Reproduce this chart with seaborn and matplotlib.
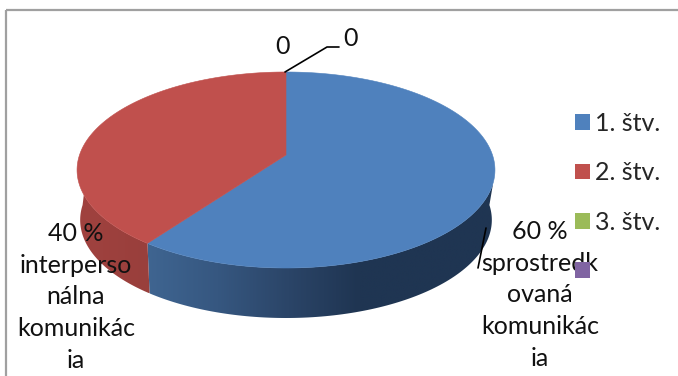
import numpy as np
import matplotlib
matplotlib.use("Agg")
import matplotlib.pyplot as plt
from matplotlib.patches import Patch, Polygon, Rectangle
from matplotlib.colors import LinearSegmentedColormap
import seaborn as sns

quarters = ["1. štv.", "2. štv.", "3. štv.", ""]
shares = [60, 40, 0, 0]
slice_labels = ["60 %\nsprostredk\novaná\nkomunikác\nia", "40 %\ninterperso\nnálna\nkomunikác\nia", "0", "0"]
palette = sns.color_palette(["#4F81BD", "#C0504D", "#9BBB59", "#8064A2"])
blue_wall = ["#3F6591", "#365780", "#2B4568", "#1F3552", "#1F3552"]
red_wall = ["#A0423F", "#993F3C"]

sns.set_theme(style="white")
plt.rcParams["font.family"] = ["Lato", "DejaVu Sans"]
TEXT_SIZE = 18
INK = "#111111"

fig, ax = plt.subplots(figsize=(6.78, 3.76), dpi=100)
ax.set_position([0, 0, 1, 1])
ax.axis("off")

# Page frame around the chart area
ax.add_patch(Rectangle((6, 10), 700, 500, fill=False, ec="#A0A0A0", lw=1.6, zorder=0))

CX, APEX_Y, HALF_W, TILT, RISE = 286, 155, 206.5, 0.153, 72
DEPTH, BOTTOM_SCALE = 50, 0.985


def project(theta):
    """Map clockwise angle from 12 o'clock onto the tilted disc."""
    u, v = np.sin(theta), np.cos(theta)
    w = 1 + TILT * v
    return CX + HALF_W * u / w, (APEX_Y - RISE * v) / w


def bottom_rim(theta):
    x, y = project(theta)
    return CX + (x - CX) * BOTTOM_SCALE, y + DEPTH


fractions = np.array(shares, float) / sum(shares)
edges = np.concatenate([[0], np.cumsum(fractions)]) * 2 * np.pi
boundary = edges[1]

# Outer wall: horizontal colour ramp clipped to the visible band of each slice
walls = [
    (np.radians(106), np.pi / 2, boundary, boundary, blue_wall, (147, 430)),
    (boundary, boundary, np.radians(247), 3 * np.pi / 2, red_wall, (80, 147)),
]
for top_a, low_a, top_b, low_b, stops, (x_from, x_to) in walls:
    top_x, top_y = project(np.linspace(top_a, top_b, 120))
    low_x, low_y = bottom_rim(np.linspace(low_b, low_a, 120))
    outline = np.column_stack([np.r_[top_x, low_x], np.r_[top_y, low_y]])
    shape = Polygon(outline, transform=ax.transData, fc="none", ec="none")
    ax.add_patch(shape)
    ramp = LinearSegmentedColormap.from_list("wall", stops)
    left, right = outline[:, 0].min(), outline[:, 0].max()
    shown = np.interp(np.linspace(left, right, 256), [x_from, x_to], [0, 1]).reshape(1, -1)
    image = ax.imshow(shown, cmap=ramp, vmin=0, vmax=1, aspect="auto",
                      extent=(left, right, outline[:, 1].max(), outline[:, 1].min()), zorder=1)
    image.set_clip_path(shape)

ax.set_xlim(0, 678)
ax.set_ylim(376, 0)

# Top face of each slice
for i in (0, 1):
    th = np.linspace(edges[i], edges[i + 1], 160)
    xs, ys = project(th)
    pts = np.column_stack([np.r_[CX, xs], np.r_[APEX_Y, ys]])
    ax.add_patch(Polygon(pts, fc=palette[i], ec=palette[i], lw=0.4, zorder=2))

# Slice captions and leader lines
caption = dict(ha="center", va="center", fontsize=TEXT_SIZE, linespacing=1.47, color=INK, zorder=3)
ax.text(540, 295, slice_labels[0], **caption)
ax.text(76, 297, slice_labels[1], **caption)
ax.text(282, 47, slice_labels[2], **caption)
ax.text(350, 39, slice_labels[3], **caption)
ax.plot([285, 327, 339], [72, 47, 47], color="black", lw=1.2, zorder=3)
ax.plot([486, 478], [228, 268], color="black", lw=1.2, zorder=3)

# Legend swatches sit on top of the captions
handles = [Patch(fc=c, ec="none") for c in palette]
ax.legend(handles, quarters, loc="upper left", bbox_to_anchor=(575 / 678, 1 - 112 / 376),
          frameon=False, fontsize=TEXT_SIZE, handlelength=0.6, handleheight=0.6,
          handletextpad=0.2, labelspacing=1.05, borderpad=0, borderaxespad=0).set_zorder(6)

fig.savefig("out.png", dpi=100)
